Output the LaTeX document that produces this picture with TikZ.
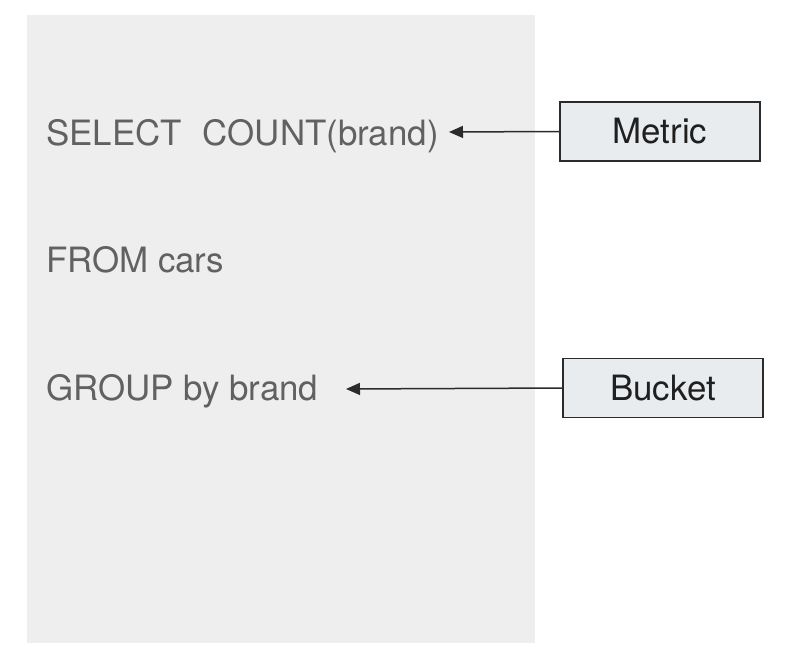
\documentclass[tikz,border=0pt]{standalone}
\usepackage{fontspec}
\setmainfont{TeX Gyre Heros}
\usetikzlibrary{arrows.meta}
\definecolor{panel}{HTML}{EEEEEE}
\definecolor{boxfill}{HTML}{E9ECEE}
\definecolor{sqltext}{HTML}{616161}
\definecolor{edge}{HTML}{2B2B2B}
\tikzset{
  sql/.style={anchor=base west, inner sep=0pt, text=sqltext, font=\fontsize{35}{40}\selectfont},
  label box/.style={draw=edge, line width=1.6bp, fill=boxfill, minimum width=200bp, minimum height=59bp, inner sep=0pt, text=black!88, font=\fontsize{35}{40}\selectfont},
  pointer/.style={draw=edge, line width=1.5bp, -{Triangle[length=14bp,width=12bp]}}
}
\begin{document}
\begin{tikzpicture}[x=1bp,y=-1bp]
\useasboundingbox (0,0) rectangle (788,666);
\fill[panel] (27,15) rectangle (535,643);
\node[sql] (sel) at (46,145.5) {SELECT\hspace{21bp}COUNT(brand)};
\node[sql] (from) at (46,272) {FROM cars};
\node[sql] (grp) at (46,400) {GROUP by brand};
\node[label box] (metric) at (660,131.5) {Metric};
\node[label box] (bucket) at (663,388) {Bucket};
\coordinate (mtip) at (449,132);
\coordinate (btip) at (346,389);
\draw[pointer] (metric.west) -- (mtip);
\draw[pointer] (bucket.west) -- (btip);
\end{tikzpicture}
\end{document}
